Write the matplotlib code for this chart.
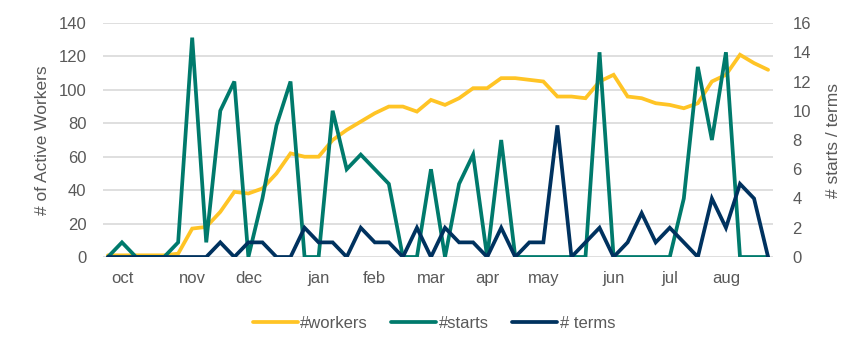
import matplotlib.pyplot as plt
import numpy as np

plt.rcParams['font.family'] = ['Liberation Sans', 'DejaVu Sans']

# weekly data, Oct -> Aug
workers = [1, 1, 1, 1, 1, 2, 17, 18, 27, 39, 38, 41, 50, 62, 60, 60,
           70, 76, 81, 86, 90, 90, 87, 94, 91, 95, 101, 101, 107, 107, 106, 105,
           96, 96, 95, 105, 109, 96, 95, 92, 91, 89, 92, 105, 109, 121, 116, 112]
starts = [0, 1, 0, 0, 0, 1, 15, 1, 10, 12, 0, 4, 9, 12, 0, 0,
          10, 6, 7, 6, 5, 0, 0, 6, 0, 5, 7, 0, 8, 0, 0, 0,
          0, 0, 0, 14, 0, 0, 0, 0, 0, 4, 13, 8, 14, 0, 0, 0]
terms = [0, 0, 0, 0, 0, 0, 0, 0, 1, 0, 1, 1, 0, 0, 2, 1,
         1, 0, 2, 1, 1, 0, 2, 0, 2, 1, 1, 0, 2, 0, 1, 1,
         9, 0, 1, 2, 0, 1, 3, 1, 2, 1, 0, 4, 2, 5, 4, 0]

month_labels = ['oct', 'nov', 'dec', 'jan', 'feb', 'mar', 'apr', 'may', 'jun', 'jul', 'aug']
month_weeks = [1, 6, 10, 15, 19, 23, 27, 31, 36, 40, 44]

c_workers = '#FFC425'
c_starts = '#007A6C'
c_terms = '#00325F'
grey = '#595959'

x = np.arange(len(workers))

fig = plt.figure(figsize=(8.68, 3.54), dpi=100)
ax = fig.add_axes([103 / 868, 1 - 257 / 354, 670 / 868, 234 / 354])
ax2 = ax.twinx()

l1, = ax.plot(x, workers, color=c_workers, lw=2.7, label='#workers',
              solid_joinstyle='miter', solid_capstyle='round')
l2, = ax2.plot(x, starts, color=c_starts, lw=2.7, label='#starts',
               solid_joinstyle='miter', solid_capstyle='round')
l3, = ax2.plot(x, terms, color=c_terms, lw=2.7, label='# terms',
               solid_joinstyle='miter', solid_capstyle='round')

ax.set_ylim(0, 140)
ax.set_yticks(range(0, 141, 20))
ax2.set_ylim(0, 16)
ax2.set_yticks(range(0, 17, 2))
ax.set_xlim(-0.35, len(workers) - 1 + 0.35)
ax.set_xticks(month_weeks)
ax.set_xticklabels(month_labels)

ax.grid(axis='y', color='#d9d9d9', lw=1.2)
ax.set_axisbelow(True)
for a in (ax, ax2):
    for s in a.spines.values():
        s.set_visible(False)
    a.tick_params(length=0, labelsize=12, labelcolor=grey)
ax.tick_params(axis='y', pad=12)
ax2.tick_params(axis='y', pad=14)
ax.tick_params(axis='x', pad=10)

ax.set_ylabel('# of Active Workers', fontsize=12.5, color=grey, labelpad=6)
ax2.set_ylabel('# starts / terms', fontsize=12.5, color=grey, labelpad=11)

fig.legend(handles=[l1, l2, l3], loc='center', bbox_to_anchor=(0.5, 1 - 323 / 354),
           ncol=3, frameon=False, fontsize=12, handlelength=2.7, handletextpad=0.15,
           columnspacing=1.4, labelcolor=grey)

fig.savefig('out.png', dpi=100)
